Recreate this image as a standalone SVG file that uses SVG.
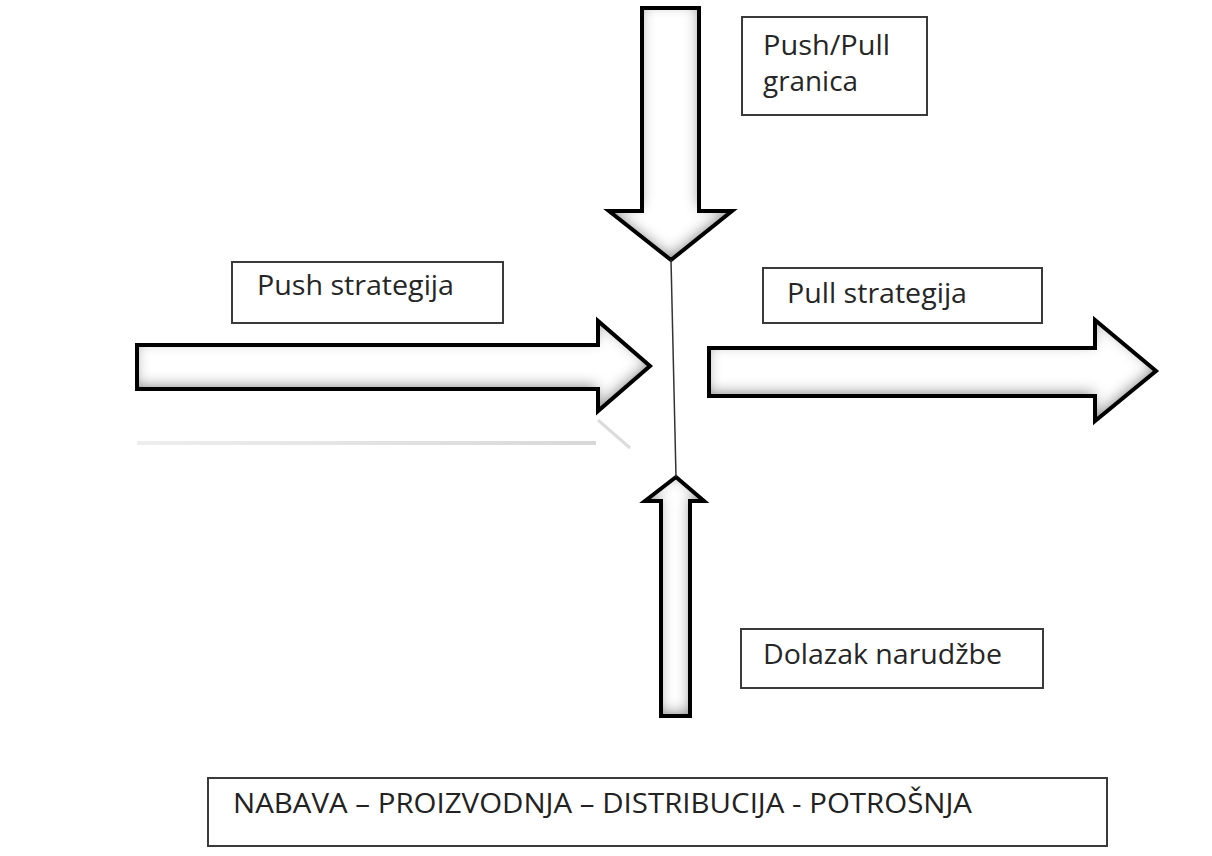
<svg xmlns="http://www.w3.org/2000/svg" width="1212" height="856" viewBox="0 0 1212 856">
<style>
.box{fill:#fff;stroke:#3a3a3a;stroke-width:2}
.lbl{font-family:"Open Sans","Liberation Sans",sans-serif;font-size:28px;fill:#262626}
.big{font-family:"Open Sans","Liberation Sans",sans-serif;font-size:28px;fill:#222}
.afill{fill:#fff;filter:url(#inner)}
.astroke{fill:none;stroke:#000;stroke-width:4;stroke-linejoin:miter}
</style>
<defs>
<filter id="inner" x="-10%" y="-10%" width="120%" height="120%">
<feFlood flood-color="#000" result="black"/>
<feComposite in="black" in2="SourceAlpha" operator="out" result="inverse"/>
<feOffset in="inverse" dx="-1" dy="-4" result="off"/>
<feGaussianBlur in="off" stdDeviation="7" result="blur"/>
<feComposite in="blur" in2="SourceAlpha" operator="in" result="shadow"/>
<feColorMatrix in="shadow" type="matrix" values="0 0 0 0 0  0 0 0 0 0  0 0 0 0 0  0 0 0 0.8 0" result="soft"/>
<feMerge><feMergeNode in="SourceGraphic"/><feMergeNode in="soft"/></feMerge>
</filter>
<linearGradient id="refl" x1="0" y1="0" x2="1" y2="0">
<stop offset="0" stop-color="#eeeeee"/>
<stop offset="1" stop-color="#d8d8d8"/>
</linearGradient>
</defs>
<rect width="1212" height="856" fill="#fff"/>
<g id="connectors">
<g id="arrow-down">
<polygon class="afill" points="642,8 699,8 699,211 732,211 671,260 609,211 642,211"/>
<polygon class="astroke" points="642,8 699,8 699,211 732,211 671,260 609,211 642,211"/>
</g>
<g id="arrow-push">
<rect x="137" y="441" width="459" height="4" fill="url(#refl)"/>
<line x1="598" y1="420" x2="630" y2="448" stroke="#dcdcdc" stroke-width="3"/>
<polygon class="afill" points="137,345 598,345 598,321 650,366 598,411 598,389 137,389"/>
<polygon class="astroke" points="137,345 598,345 598,321 650,366 598,411 598,389 137,389"/>
</g>
<g id="arrow-pull">
<polygon class="afill" points="709,348 1095,348 1095,320 1156,371 1095,421 1095,396 709,396"/>
<polygon class="astroke" points="709,348 1095,348 1095,320 1156,371 1095,421 1095,396 709,396"/>
</g>
<g id="arrow-up">
<polygon class="afill" points="661,716 690,716 690,501 704,501 676,477 645,501 661,501"/>
<polygon class="astroke" points="661,716 690,716 690,501 704,501 676,477 645,501 661,501"/>
</g>
<line id="boundary-line" x1="671" y1="260" x2="676" y2="477" stroke="#333" stroke-width="1.5"/>
</g>
<g id="node-granica">
<rect class="box" x="742" y="17" width="185" height="98"/>
<text class="lbl" x="763" y="55" textLength="127" lengthAdjust="spacingAndGlyphs">Push/Pull</text>
<text class="lbl" x="763" y="91" textLength="95" lengthAdjust="spacingAndGlyphs">granica</text>
</g>
<g id="node-push">
<rect class="box" x="232" y="262" width="271" height="61"/>
<text class="lbl" x="257" y="295" textLength="197" lengthAdjust="spacingAndGlyphs">Push strategija</text>
</g>
<g id="node-pull">
<rect class="box" x="763" y="268" width="279" height="55"/>
<text class="lbl" x="787" y="303" textLength="180" lengthAdjust="spacingAndGlyphs">Pull strategija</text>
</g>
<g id="node-dolazak">
<rect class="box" x="741" y="629" width="302" height="59"/>
<text class="lbl" x="763" y="664" textLength="239" lengthAdjust="spacingAndGlyphs">Dolazak narudžbe</text>
</g>
<g id="node-lanac">
<rect class="box" x="208" y="778" width="899" height="68"/>
<text class="big" x="233" y="813" textLength="739" lengthAdjust="spacingAndGlyphs">NABAVA – PROIZVODNJA – DISTRIBUCIJA  - POTROŠNJA</text>
</g>
</svg>
